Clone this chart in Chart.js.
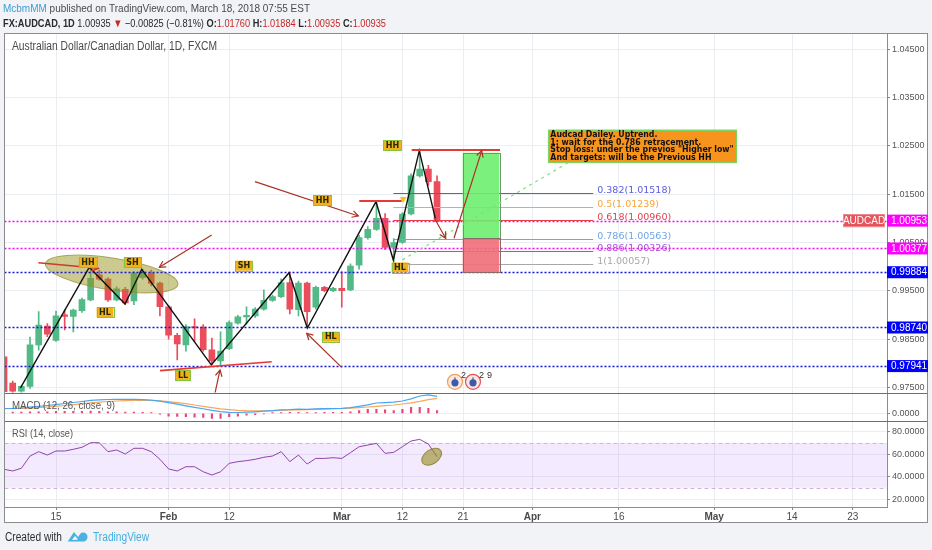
<!DOCTYPE html>
<html><head><meta charset="utf-8">
<script src="https://cdn.jsdelivr.net/npm/chart.js@4.4.1/dist/chart.umd.min.js"></script>
<style>
html,body{margin:0;padding:0;background:#f1f3f6;}
canvas{display:block;}
</style></head><body>
<canvas id="c" width="932" height="550"></canvas>
<script>
// ---------- DATA ----------
// trading-day index (0 = Jan 15 2018), one bar per weekday, Jan 5 .. Mar 16
const BAR_INDEX = [-6,-5,-4,-3,-2,-1,0,1,2,3,4,5,6,7,8,9,10,11,12,13,14,15,16,17,18,19,20,21,22,23,24,25,26,27,28,29,30,31,32,33,34,35,36,37,38,39,40,41,42,43,44];
const OPEN  = [0.9813,0.9759,0.9742,0.9752,0.9838,0.9877,0.9847,0.9900,0.9897,0.9909,0.9931,0.9983,0.9974,0.9931,0.9953,0.9929,0.9977,0.9986,0.9966,0.9917,0.9858,0.9838,0.9876,0.9875,0.9828,0.9805,0.9830,0.9883,0.9896,0.9898,0.9912,0.9930,0.9938,0.9967,0.9911,0.9966,0.9916,0.9957,0.9950,0.9955,0.9952,1.0003,1.0060,1.0077,1.0100,1.0040,1.0050,1.0109,1.0188,1.0202,1.0176];
const HIGH  = [0.9816,0.9763,0.9753,0.9854,0.9907,0.9882,0.9908,0.9911,0.9912,0.9935,0.9997,0.9993,0.9977,0.9958,0.9957,0.9990,0.9995,0.9993,0.9968,0.9920,0.9862,0.9880,0.9892,0.9880,0.9852,0.9865,0.9888,0.9899,0.9917,0.9915,0.9952,0.9941,0.9975,0.9988,0.9970,0.9968,0.9960,0.9959,0.9957,0.9990,1.0006,1.0065,1.0083,1.0135,1.0110,1.0058,1.0112,1.0192,1.0242,1.0210,1.0188];
const LOW   = [0.9738,0.9739,0.9736,0.9748,0.9827,0.9855,0.9845,0.9869,0.9865,0.9905,0.9929,0.9972,0.9928,0.9929,0.9922,0.9921,0.9974,0.9960,0.9898,0.9850,0.9807,0.9825,0.9845,0.9825,0.9797,0.9796,0.9828,0.9881,0.9881,0.9895,0.9910,0.9928,0.9936,0.9902,0.9898,0.9874,0.9912,0.9948,0.9948,0.9916,0.9950,0.9995,1.0057,1.0075,1.0035,1.0006,1.0048,1.0107,1.0185,1.0168,1.00935];
const CLOSE = [0.9741,0.9742,0.9752,0.9838,0.9879,0.9860,0.9898,0.9897,0.9910,0.9932,0.9976,0.9974,0.9931,0.9954,0.9925,0.9987,0.9989,0.9965,0.9917,0.9858,0.9840,0.9876,0.9873,0.9828,0.9805,0.9825,0.9884,0.9896,0.9899,0.9912,0.9930,0.9938,0.9967,0.9912,0.9966,0.9907,0.9957,0.9950,0.9955,0.9950,1.0001,1.0060,1.0077,1.0100,1.0040,1.0050,1.0109,1.0188,1.0202,1.0176,1.00935];

const MACD_LINE   = [0.00152,0.00155,0.00168,0.00193,0.00222,0.00247,0.00276,0.00311,0.00342,0.00374,0.00409,0.00428,0.00437,0.00444,0.00440,0.00444,0.00434,0.00415,0.00383,0.00339,0.00288,0.00238,0.00190,0.00143,0.00092,0.00054,0.00032,0.00025,0.00035,0.00048,0.00067,0.00086,0.00111,0.00117,0.00130,0.00127,0.00139,0.00146,0.00152,0.00155,0.00181,0.00222,0.00269,0.00326,0.00339,0.00352,0.00390,0.00459,0.00548,0.00586,0.00539];
const MACD_SIGNAL = [0.00149,0.00152,0.00155,0.00165,0.00181,0.00200,0.00222,0.00247,0.00273,0.00301,0.00330,0.00355,0.00374,0.00390,0.00399,0.00406,0.00409,0.00406,0.00393,0.00371,0.00339,0.00304,0.00263,0.00222,0.00181,0.00143,0.00117,0.00095,0.00082,0.00079,0.00079,0.00086,0.00095,0.00105,0.00111,0.00117,0.00127,0.00133,0.00143,0.00152,0.00162,0.00181,0.00200,0.00222,0.00244,0.00263,0.00295,0.00333,0.00380,0.00434,0.00475];
const MACD_HIST   = [0.0003,0.0004,0.0004,0.0005,0.0005,0.0005,0.0006,0.0006,0.0006,0.0006,0.0007,0.0006,0.0005,0.0005,0.0004,0.0004,0.0003,0.0002,-0.0003,-0.0009,-0.0010,-0.0011,-0.0012,-0.0013,-0.0016,-0.0016,-0.0011,-0.0009,-0.0006,-0.0004,-0.0002,0.0002,0.0002,0.0003,0.0003,0.0002,0.0002,0.0003,0.0003,0.0003,0.0005,0.00085,0.00127,0.00127,0.00106,0.00085,0.00127,0.0019,0.0019,0.0016,0.00085];
const RSI = [46.5,45.0,47.4,58.3,62.2,59.2,62.8,62.8,64.3,66.1,70.2,70.2,62.2,63.7,60.1,65.2,65.2,62.2,55.4,46.8,45.0,48.8,48.8,44.3,41.4,44.3,51.8,53.3,54.2,55.4,57.2,58.3,62.2,53.3,59.2,51.2,56.2,56.2,56.8,56.2,61.3,66.6,68.1,69.6,60.7,61.6,66.6,71.7,73.2,69.0,57.7];

const X_TICK_INDEX  = [0,13,20,33,40,47,55,65,76,85,92];
const X_TICK_LABELS = ['15','Feb','12','Mar','12','21','Apr','16','May','14','23'];
const X_TICK_MONTH  = [false,true,false,true,false,false,true,false,true,false,false];
const PRICE_TICKS = [0.975,0.980,0.985,0.990,0.995,1.000,1.005,1.010,1.015,1.020,1.025,1.030,1.035,1.040,1.045];
const MACD_TICKS = [0];
const RSI_TICKS = [20,40,60,80];
const RSI_UPPER = 70, RSI_LOWER = 30;

// drawings (index, price)
const H_LINES = [1.00953,1.00377,0.99884,0.98740,0.97941];
const LAST_PRICE_LABEL = 'AUDCAD';
const ZIGZAG = [[-4.1,0.9749],[3.85,0.99987],[7.97,0.99227],[9.90,0.99945],[17.93,0.97964],[26.91,0.99875],[29.02,0.98730],[36.95,1.01345],[38.95,1.00138],[41.95,1.02401],[43.8,1.0100]];
const RED_LINES = [[35.02,1.01359,39.92,1.01359],[41.07,1.02415,51.27,1.02415],[12.01,0.97846,24.91,0.98032]];
const TREND_ARROW = [-2.04,1.00082,4.88,0.99966];
const ARROWS = [[17.98,1.00655,11.93,0.99987],[18.36,0.97380,18.94,0.97860],[32.99,0.97915,28.95,0.98620],[22.98,1.01759,34.91,1.01049],[43.76,1.00980,45.0,1.00587],[45.96,1.00587,49.16,1.02401]];
const BADGE_TEXT = ['HH','SH','HL','LL','SH','HL','HH','HH','HL'];
const BADGE_POS = [[3.70,1.00086],[8.83,1.00086],[5.66,0.99055],[14.67,0.97757],[21.71,1.00020],[31.73,0.98550],[30.77,1.01370],[38.86,1.02512],[39.72,0.99982]];
const ELLIPSE_CENTER = [6.43,0.99847];
const FIB_RATIOS = [0.382,0.5,0.618,0.786,0.886,1];
const FIB_HIGH = 1.02421, FIB_LOW = 1.00057, FIB_FROM = 38.95, FIB_TO = 62.04, FIB_LABEL_AT = 62.5;
const TARGET_BOX = [46.96,1.02359,51.19,1.00587];
const STOP_BOX = [46.96,1.00587,51.19,0.99875];
const DASH_TREND = [40.0,1.0014,59.7,1.0221];
const YELLOW_MARK = [40.1,1.0138];
const NOTE_BOX = [56.85,1.02837,78.6,1.02166];
const NOTE_LINES = ['Audcad Dailey. Uptrend.','1: wait for the 0.786 retracement.','Stop loss: under the previos "Higher low"','And targets: will be the Previous HH'];
const EVENT_MARKS = [[46.07,0.97615],[48.15,0.97615]];
const RSI_MARK = [43.38,57.7];

// ---------- LAYOUT / STYLE ----------
const X_MIN = -5.947, X_MAX = 95.958;
const MAIN_MIN = 0.97394, MAIN_MAX = 1.048375;
const MACD_MIN = -0.00241, MACD_MAX = 0.00659;
const RSI_MIN = 12.89, RSI_MAX = 89.63;
const W_MAIN = 359.5, W_MACD = 28.4, W_RSI = 86.1;
const FRAME = {left:4, top:33, right:927, bottom:522};
const UP = '#53b987', DOWN = '#eb4d5c';
const H_LINE_COLORS = ['#ff00ff','#ff00ff','#1414e6','#1414e6','#1414e6'];
const BADGE_BG = ['#ff00ff','#ff00ff','#0000ff','#0000ff','#0000ff'];
const FIB_COLORS = ['#5b5bd9','#f5a742','#e8404a','#72a4e3','#b04ad6','#a8a8a8'];
const FAM = "'Liberation Sans', Arial, sans-serif";
const NARROW = "'Liberation Sans Narrow','Liberation Sans', Arial, sans-serif";
const GRID = '#eaeef3';

const barColors = OPEN.map((o,k)=> CLOSE[k] >= o ? UP : DOWN);

function drawRuns(ctx, runs, x, y, width, size, family) {
  const fontOf = r => `${r[2]||'normal'} ${size}px ${family}`;
  let total = 0;
  runs.forEach(r => { ctx.font = fontOf(r); total += ctx.measureText(r[0]).width; });
  const s = width / total;
  ctx.save(); ctx.translate(x, y); ctx.scale(s, 1); ctx.textBaseline = 'alphabetic'; ctx.textAlign='left';
  let cx = 0;
  runs.forEach(r => { ctx.font = fontOf(r); ctx.fillStyle = r[1]; ctx.fillText(r[0], cx, 0); cx += ctx.measureText(r[0]).width; });
  ctx.restore();
}
function seg(ctx, x1, y1, x2, y2) { ctx.beginPath(); ctx.moveTo(x1, y1); ctx.lineTo(x2, y2); ctx.stroke(); }
function arrow(ctx, x1, y1, x2, y2, color, lw, head) {
  ctx.strokeStyle = color; ctx.lineWidth = lw; ctx.setLineDash([]);
  seg(ctx, x1, y1, x2, y2);
  const a = Math.atan2(y2-y1, x2-x1);
  ctx.beginPath();
  ctx.moveTo(x2 - head*Math.cos(a-0.5), y2 - head*Math.sin(a-0.5));
  ctx.lineTo(x2, y2);
  ctx.lineTo(x2 - head*Math.cos(a+0.5), y2 - head*Math.sin(a+0.5));
  ctx.stroke();
}

const paint = {
  id: 'paint',
  beforeDraw(chart) {
    const ctx = chart.ctx;
    ctx.save();
    ctx.fillStyle = '#f1f3f6'; ctx.fillRect(0, 0, chart.width, chart.height);
    ctx.fillStyle = '#ffffff'; ctx.fillRect(FRAME.left, FRAME.top, FRAME.right-FRAME.left, FRAME.bottom-FRAME.top);
    ctx.restore();
  },
  beforeDatasetsDraw(chart) {
    const {ctx, chartArea:a, scales} = chart; const r = scales.yRsi;
    const y1 = r.getPixelForValue(RSI_UPPER), y2 = r.getPixelForValue(RSI_LOWER);
    ctx.save();
    ctx.fillStyle = 'rgba(155,60,235,0.11)'; ctx.fillRect(a.left, y1, a.right-a.left, y2-y1);
    ctx.strokeStyle = '#cfb6d2'; ctx.lineWidth = 1; ctx.setLineDash([4,3]);
    [y1,y2].forEach(y => seg(ctx, a.left, Math.round(y)+0.5, a.right, Math.round(y)+0.5));
    ctx.restore();
  },
  afterDatasetsDraw(chart) {
    const {ctx, chartArea:a, scales} = chart; const x = scales.x, y = scales.y;
    const X = i => x.getPixelForValue(i), Y = v => y.getPixelForValue(v);
    ctx.save();
    ctx.beginPath(); ctx.rect(a.left, y.top, a.right-a.left, y.bottom-y.top); ctx.clip();
    // ellipse
    ctx.save();
    ctx.translate(X(ELLIPSE_CENTER[0]), Y(ELLIPSE_CENTER[1])); ctx.rotate(0.155);
    ctx.beginPath(); ctx.ellipse(0, 0, 67, 16, 0, 0, Math.PI*2);
    ctx.fillStyle = 'rgba(150,145,20,0.48)'; ctx.fill();
    ctx.strokeStyle = 'rgba(140,135,40,0.7)'; ctx.lineWidth = 1; ctx.stroke();
    ctx.restore();
    // horizontal dotted levels
    ctx.lineWidth = 1.5; ctx.setLineDash([2,2]);
    H_LINES.forEach((v,k) => { ctx.strokeStyle = H_LINE_COLORS[k]; const yy = Math.round(Y(v))+0.5; seg(ctx, a.left, yy, a.right, yy); });
    ctx.setLineDash([]);
    // fib
    ctx.lineWidth = 1;
    FIB_RATIOS.forEach((r,k) => {
      const v = FIB_HIGH - r*(FIB_HIGH-FIB_LOW); const yy = Math.round(Y(v))+0.5;
      ctx.strokeStyle = FIB_COLORS[k]; seg(ctx, X(FIB_FROM), yy, X(FIB_TO), yy);
      ctx.font = `9.5px 'DejaVu Sans', sans-serif`; ctx.fillStyle = FIB_COLORS[k]; ctx.textBaseline = 'alphabetic'; ctx.textAlign='left';
      ctx.fillText(`${r}(${v.toFixed(5)})`, X(FIB_LABEL_AT), yy - 0.5);
    });
    // target / stop boxes
    const box = (b, fill, stroke) => {
      const x1 = X(b[0]), y1 = Y(b[1]), x2 = X(b[2]), y2 = Y(b[3]);
      ctx.fillStyle = fill; ctx.fillRect(x1, y1, x2-x1, y2-y1);
      ctx.strokeStyle = stroke; ctx.lineWidth = 1; ctx.strokeRect(Math.round(x1)+0.5, Math.round(y1)+0.5, Math.round(x2-x1), Math.round(y2-y1));
    };
    box(TARGET_BOX, 'rgba(110,238,110,0.9)', '#6a9a6a');
    box(STOP_BOX, 'rgba(240,110,120,0.9)', '#8a6a6a');
    // dashed green trend
    ctx.strokeStyle = '#7fe07f'; ctx.lineWidth = 1.2; ctx.setLineDash([3,4]);
    seg(ctx, X(DASH_TREND[0]), Y(DASH_TREND[1]), X(DASH_TREND[2]), Y(DASH_TREND[3]));
    ctx.setLineDash([]);
    // zigzag
    ctx.strokeStyle = '#111'; ctx.lineWidth = 1.4; ctx.lineJoin = 'miter';
    ctx.beginPath(); ZIGZAG.forEach((p,k) => k ? ctx.lineTo(X(p[0]), Y(p[1])) : ctx.moveTo(X(p[0]), Y(p[1]))); ctx.stroke();
    // red levels
    ctx.strokeStyle = '#e53935'; 
    RED_LINES.forEach((l,k) => { ctx.lineWidth = k < 2 ? 2 : 1.6; seg(ctx, X(l[0]), Y(l[1]), X(l[2]), Y(l[3])); });
    // yellow marker
    const mx = X(YELLOW_MARK[0]), my = Y(YELLOW_MARK[1]);
    ctx.fillStyle = '#f3c614'; ctx.beginPath(); ctx.moveTo(mx-3.5, my-3); ctx.lineTo(mx+3.5, my-3); ctx.lineTo(mx, my+3); ctx.closePath(); ctx.fill();
    // arrows
    arrow(ctx, X(TREND_ARROW[0]), Y(TREND_ARROW[1]), X(TREND_ARROW[2]), Y(TREND_ARROW[3]), '#cc3b2f', 1.5, 7);
    ARROWS.forEach(p => arrow(ctx, X(p[0]), Y(p[1]), X(p[2]), Y(p[3]), '#a93226', 1.2, 7));
    // badges
    ctx.font = `bold 8px 'DejaVu Sans', sans-serif`; ctx.textAlign = 'center'; ctx.textBaseline = 'middle';
    BADGE_TEXT.forEach((t,k) => {
      const cx = X(BADGE_POS[k][0]), cy = Y(BADGE_POS[k][1]);
      const w = ctx.measureText(t).width + 5, h = 10;
      ctx.fillStyle = '#f0b21c'; ctx.fillRect(cx-w/2, cy-h/2, w, h);
      ctx.strokeStyle = '#86c440'; ctx.lineWidth = 1; ctx.strokeRect(Math.round(cx-w/2)+0.5, Math.round(cy-h/2)+0.5, Math.round(w), h);
      ctx.fillStyle = '#2a2a00'; ctx.fillText(t, cx, cy+0.5);
    });
    // event icons
    EVENT_MARKS.forEach((p,k) => {
      const cx = X(p[0]), cy = Y(p[1]);
      ctx.beginPath(); ctx.arc(cx, cy, 7.5, 0, Math.PI*2);
      ctx.fillStyle = '#fbe6e0'; ctx.fill();
      ctx.strokeStyle = k ? '#e2545c' : '#f0a060'; ctx.lineWidth = 1.2; ctx.stroke();
      ctx.fillStyle = '#3b5cab'; ctx.beginPath(); ctx.arc(cx, cy+1, 3.6, 0, Math.PI*2); ctx.fill();
      ctx.fillRect(cx-0.6, cy-4.5, 1.2, 3);
    });
    ctx.font = `9px ${FAM}`; ctx.fillStyle = '#333'; ctx.textAlign='left'; ctx.textBaseline='middle';
    { const e0 = EVENT_MARKS[0], e1 = EVENT_MARKS[1];
      ctx.fillText('2', X(e0[0])+6, Y(e0[1])-6); ctx.fillText('2', X(e1[0])+6, Y(e1[1])-6); ctx.fillText('9', X(e1[0])+14, Y(e1[1])-6); }
    ctx.restore();

    // note box (not clipped)
    ctx.save();
    { const x1 = X(NOTE_BOX[0]), y1 = Y(NOTE_BOX[1]), x2 = X(NOTE_BOX[2]), y2 = Y(NOTE_BOX[3]);
      ctx.fillStyle = '#f7941d'; ctx.fillRect(x1, y1, x2-x1, y2-y1);
      ctx.strokeStyle = '#7fd35f'; ctx.lineWidth = 1.2; ctx.strokeRect(Math.round(x1)+0.5, Math.round(y1)+0.5, Math.round(x2-x1), Math.round(y2-y1));
      ctx.font = `bold 8.5px 'DejaVu Sans', sans-serif`; ctx.fillStyle = '#111'; ctx.textAlign='left'; ctx.textBaseline='middle';
      const widest = Math.max(...NOTE_LINES.map(t => ctx.measureText(t).width));
      const s = Math.min(1, (x2 - x1 - 5) / widest);
      const lh = (y2 - y1 - 3) / NOTE_LINES.length;
      NOTE_LINES.forEach((t,k) => { ctx.save(); ctx.translate(x1+2, y1 + 2 + lh*(k+0.5)); ctx.scale(s, 1); ctx.fillText(t, 0, 0); ctx.restore(); });
    }
    ctx.restore();

    // RSI mark ellipse
    const r = scales.yRsi;
    ctx.save();
    ctx.translate(X(RSI_MARK[0]), r.getPixelForValue(RSI_MARK[1])); ctx.rotate(-0.6);
    ctx.beginPath(); ctx.ellipse(0, 0, 11, 7, 0, 0, Math.PI*2);
    ctx.fillStyle = 'rgba(150,140,30,0.6)'; ctx.fill();
    ctx.strokeStyle = 'rgba(130,120,40,0.8)'; ctx.lineWidth = 1; ctx.stroke();
    ctx.restore();
  },
  afterDraw(chart) {
    const {ctx, chartArea:a, scales} = chart; const y = scales.y;
    ctx.save();
    // pane separators & frame
    ctx.strokeStyle = '#6e6e6e'; ctx.lineWidth = 1;
    [scales.yMacd.top, scales.yRsi.top].forEach(v => seg(ctx, FRAME.left, Math.round(v)+0.5, FRAME.right, Math.round(v)+0.5));
    ctx.strokeStyle = '#8c8c8c';
    ctx.strokeRect(FRAME.left+0.5, FRAME.top+0.5, FRAME.right-FRAME.left, FRAME.bottom-FRAME.top);
    // right-axis value badges
    ctx.textBaseline = 'middle'; ctx.textAlign = 'left';
    H_LINES.forEach((v,k) => {
      const yy = y.getPixelForValue(v);
      ctx.fillStyle = BADGE_BG[k]; ctx.fillRect(a.right, yy-6, 41, 12);
      ctx.font = `10px ${FAM}`; ctx.fillStyle = '#ffffff'; ctx.fillText(v.toFixed(5), a.right+4, yy+0.5);
    });
    { const yy = y.getPixelForValue(H_LINES[0]);
      ctx.fillStyle = '#e5535c'; ctx.fillRect(a.right-44, yy-6.5, 42, 13);
      ctx.strokeStyle = '#f08a90'; ctx.strokeRect(a.right-43.5, yy-6, 41, 12);
      ctx.font = `10px ${FAM}`; ctx.fillStyle = '#fff'; ctx.textAlign='center'; ctx.fillText(LAST_PRICE_LABEL, a.right-23, yy+0.5); }
    ctx.textAlign = 'left';
    // header
    drawRuns(ctx, [['McbmMM','#3a9fd6'],[' published on TradingView.com, March 18, 2018 07:55 EST','#4a4a4a']], 3, 12, 307, 11.5, NARROW);
    const R = '#c62828', D = '#2a2a2a';
    drawRuns(ctx, [['FX:AUDCAD, 1D',D,'bold'],[' 1.00935 ',D],['\u25BC',R],[' \u22120.00825 (\u22120.81%) ',D],['O:',D,'bold'],['1.01760',R],[' H:',D,'bold'],['1.01884',R],[' L:',D,'bold'],['1.00935',R],[' C:',D,'bold'],['1.00935',R]], 3, 27, 383, 11.5, NARROW);
    drawRuns(ctx, [['Australian Dollar/Canadian Dollar, 1D, FXCM','#4a4a4a']], 12, 50, 205, 12, NARROW);
    drawRuns(ctx, [['MACD (12, 26, close, 9)','#555']], 12, scales.yMacd.top + 16, 103, 11.5, NARROW);
    drawRuns(ctx, [['RSI (14, close)','#555']], 12, scales.yRsi.top + 16, 61, 11.5, NARROW);
    // footer
    drawRuns(ctx, [['Created with','#2f2f2f']], 5, 541, 57, 12, NARROW);
    ctx.fillStyle = '#4cb0e2';
    ctx.beginPath(); ctx.moveTo(68, 541); ctx.lineTo(74, 532); ctx.lineTo(78, 537); ctx.lineTo(81, 533);
    ctx.arc(83, 537, 4.5, -2.2, 1.57); ctx.lineTo(68, 541.5); ctx.closePath(); ctx.fill();
    ctx.fillStyle = '#ffffff'; ctx.beginPath(); ctx.moveTo(72, 540); ctx.lineTo(75, 536); ctx.lineTo(78, 539.5); ctx.closePath(); ctx.fill();
    drawRuns(ctx, [['TradingView','#45aee0']], 93, 541, 56, 12, NARROW);
    ctx.restore();
  }
};

const setTicks = arr => s => { s.ticks = arr.map(v => ({value: v})); };
const yBase = (weight, min, max, ticks, fmt) => ({
  type: 'linear', position: 'right', stack: 'panes', stackWeight: weight, min, max, offset: false,
  afterBuildTicks: setTicks(ticks),
  afterFit: s => { s.width = 41; },
  grid: {color: GRID, tickLength: 3, tickColor: '#888'},
  border: {color: '#8c8c8c'},
  ticks: {color: '#555', padding: 2, font: {family: FAM, size: 9}, callback: fmt}
});

const toXY = (arr) => arr.map((v,k) => ({x: BAR_INDEX[k], y: v}));
const PANE_CLIP = {left: 0, top: 0, right: 0, bottom: 0};

new Chart(document.getElementById('c'), {
  type: 'bar',
  data: {
    datasets: [
      {type:'bar', data: BAR_INDEX.map((i,k)=>({x:i, y:[LOW[k],HIGH[k]]})), backgroundColor: barColors, barThickness: 1, maxBarThickness: 1, grouped: false, yAxisID: 'y', order: 3, clip: PANE_CLIP},
      {type:'bar', data: BAR_INDEX.map((i,k)=>({x:i, y:[OPEN[k],CLOSE[k]]})), backgroundColor: barColors, barThickness: 6, maxBarThickness: 6, minBarLength: 1, grouped: false, yAxisID: 'y', order: 2, clip: PANE_CLIP},
      {type:'bar', data: toXY(MACD_HIST), backgroundColor: '#e8467c', barThickness: 1.5, maxBarThickness: 1.5, grouped: false, yAxisID: 'yMacd', order: 4, clip: PANE_CLIP},
      {type:'line', data: toXY(MACD_SIGNAL), borderColor: '#f5a860', borderWidth: 1.2, pointRadius: 0, yAxisID: 'yMacd', order: 1},
      {type:'line', data: toXY(MACD_LINE), borderColor: '#4aa6ee', borderWidth: 1.2, pointRadius: 0, yAxisID: 'yMacd', order: 0},
      {type:'line', data: toXY(RSI), borderColor: '#8e44a8', borderWidth: 1, pointRadius: 0, yAxisID: 'yRsi', order: 0}
    ]
  },
  options: {
    responsive: false, animation: false, devicePixelRatio: 1,
    layout: {padding: {left: 4.5, top: 33, right: 4, bottom: 28}},
    plugins: {legend: {display: false}, tooltip: {enabled: false}},
    scales: {
      x: {type: 'linear', min: X_MIN, max: X_MAX, position: 'bottom', offset: false,
          afterBuildTicks: setTicks(X_TICK_INDEX),
          afterFit: s => { s.height = 15; },
          grid: {color: GRID, offset: false, tickLength: 3, tickColor: '#888'},
          border: {color: '#8c8c8c'},
          ticks: {autoSkip: false, maxRotation: 0, padding: 1, color: '#4a4a4a',
                  font: c => ({family: FAM, size: 10, weight: (c.tick && X_TICK_MONTH[X_TICK_INDEX.indexOf(c.tick.value)]) ? 'bold' : 'normal'}),
                  callback: v => X_TICK_LABELS[X_TICK_INDEX.indexOf(v)]}},
      y: yBase(W_MAIN, MAIN_MIN, MAIN_MAX, PRICE_TICKS, v => v.toFixed(5)),
      yMacd: yBase(W_MACD, MACD_MIN, MACD_MAX, MACD_TICKS, v => v.toFixed(4)),
      yRsi: yBase(W_RSI, RSI_MIN, RSI_MAX, RSI_TICKS, v => v.toFixed(4))
    }
  },
  plugins: [paint]
});
</script>
</body></html>
